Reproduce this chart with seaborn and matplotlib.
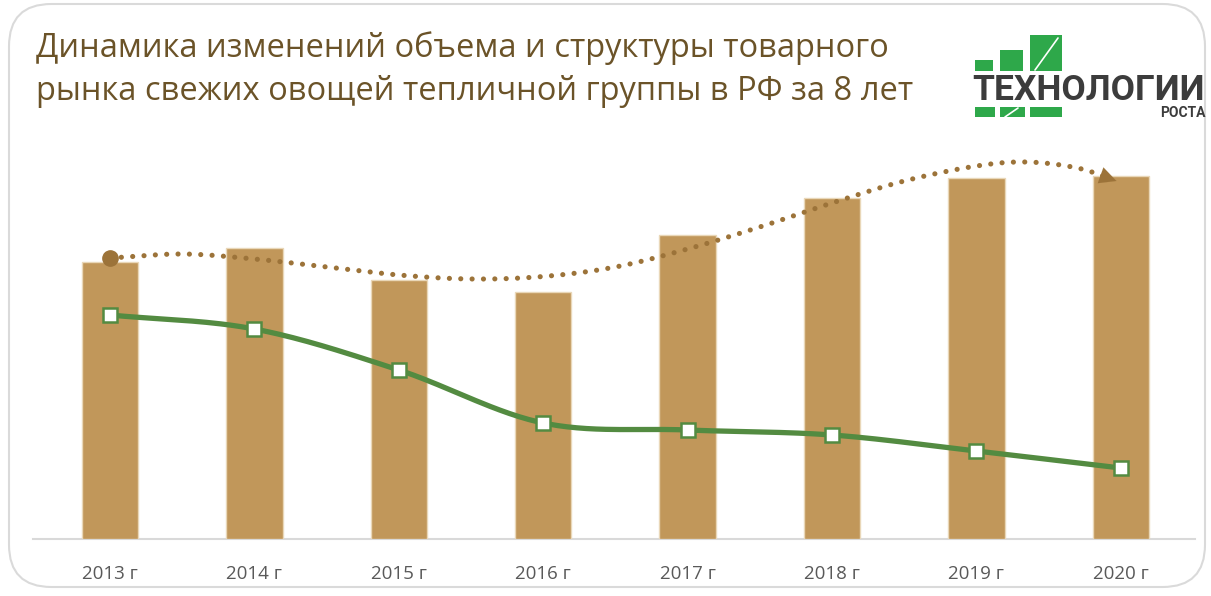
import numpy as np
import pandas as pd
import matplotlib
matplotlib.use("Agg")
import matplotlib.pyplot as plt
import seaborn as sns
from matplotlib.patches import FancyBboxPatch, Rectangle

# ---------------- data ----------------
years = ["2013 г", "2014 г", "2015 г", "2016 г", "2017 г", "2018 г", "2019 г", "2020 г"]
market_volume = [277, 291, 259, 247, 304, 341, 361, 363]        # bars
import_share = [224, 210, 169, 116, 109, 104, 88, 71]             # green line
trend_x = [0, 0.5, 1, 1.5, 2, 2.5, 3, 3.5, 4, 4.5, 5, 5.5, 6, 6.35, 6.7, 6.97]
trend_y = [281, 285, 280, 272, 264, 260, 262.5, 272, 290, 312, 336, 358, 373, 377, 371, 358]
title = "Динамика изменений объема и структуры товарного\nрынка свежих овощей тепличной группы в РФ за 8 лет"

BAR_C = "#C1975A"
GREEN = "#538B41"
BROWN = "#9C7339"
TITLE_C = "#6B5328"


def catmull_rom(xs, ys, n=30):
    xs = np.asarray(xs, float); ys = np.asarray(ys, float)
    px = np.concatenate([[2 * xs[0] - xs[1]], xs, [2 * xs[-1] - xs[-2]]])
    py = np.concatenate([[2 * ys[0] - ys[1]], ys, [2 * ys[-1] - ys[-2]]])
    ox, oy = [], []
    for i in range(1, len(px) - 2):
        t = np.linspace(0, 1, n, endpoint=False)
        for arr, out in ((px, ox), (py, oy)):
            p0, p1, p2, p3 = arr[i - 1], arr[i], arr[i + 1], arr[i + 2]
            out.extend(0.5 * ((2 * p1) + (-p0 + p2) * t + (2 * p0 - 5 * p1 + 4 * p2 - p3) * t ** 2
                              + (-p0 + 3 * p1 - 3 * p2 + p3) * t ** 3))
    ox.append(xs[-1]); oy.append(ys[-1])
    return np.array(ox), np.array(oy)


sns.set_theme(style="white")
plt.rcParams['font.family'] = ['Open Sans', 'DejaVu Sans']

fig = plt.figure(figsize=(12.11, 5.96), dpi=100)
W, H = 1211, 596

# rounded frame
frame = FancyBboxPatch((9 / W, 9 / H), (1205 - 9) / W, (592 - 9) / H,
                       boxstyle="round,pad=0,rounding_size=0.035",
                       transform=fig.transFigure, fill=False, ec="#DADADA", lw=1.5,
                       mutation_aspect=W / H)
fig.patches.append(frame)

ax = fig.add_axes([33 / W, 1 - 539 / H, 1162 / W, 399 / H])
df = pd.DataFrame({"year": years, "volume": market_volume})
sns.barplot(data=df, x="year", y="volume", color=BAR_C, saturation=1, width=0.39,
            edgecolor="#E9D7B8", linewidth=1.0, ax=ax, zorder=2)

# green smoothed line with square markers
lx, ly = catmull_rom(np.arange(len(years)), import_share)
ax.plot(lx, ly, color=GREEN, lw=3.8, solid_capstyle="round", zorder=3)
ax.plot(np.arange(len(years)), import_share, ls="none", marker="s", ms=10,
        mfc="white", mec=GREEN, mew=1.8, zorder=4)

# dotted trend arrow
tx, ty = catmull_rom(trend_x, trend_y)
ax.plot(tx[:-6], ty[:-6], color=BROWN, lw=3.7, ls=(0, (0.01, 2.2)),
        dash_capstyle="round", zorder=5)
ax.plot([trend_x[0]], [trend_y[0]], marker="o", ms=11, color=BROWN, mec=BROWN, zorder=6)
ax.annotate("", xy=(tx[-1], ty[-1]), xytext=(tx[-8], ty[-8]),
            arrowprops=dict(arrowstyle="-|>,head_length=1.0,head_width=0.5",
                            color=BROWN, lw=0.1, shrinkA=0, shrinkB=0), zorder=6)

ax.set_xlim(-77 / 144.4, (1195 - 110) / 144.4)
ax.set_ylim(0, 399)
ax.set_xlabel(""); ax.set_ylabel("")
ax.set_yticks([])
for s in ["top", "right", "left"]:
    ax.spines[s].set_visible(False)
ax.spines["bottom"].set_color("#D9D9D9")
ax.spines["bottom"].set_linewidth(1.5)
ax.spines["bottom"].set_zorder(1)
ax.tick_params(axis="x", length=0, pad=19, labelsize=13.5, labelcolor="#595959")
ax.set_facecolor("none")

# title
fig.text(36 / W, 1 - 31 / H, title, ha="left", va="top", fontsize=23.5,
         color=TITLE_C, linespacing=1.42)

# logo
LG = "#2EA84A"
def frect(x0, y0, x1, y1):
    fig.patches.append(Rectangle((x0 / W, 1 - y1 / H), (x1 - x0) / W, (y1 - y0) / H,
                                 transform=fig.transFigure, color=LG, lw=0))
frect(975, 60, 993, 71)
frect(1000, 50, 1023, 71)
frect(1030, 35, 1062, 71)
frect(975, 107, 995, 117)
frect(1000, 107, 1025, 117)
frect(1030, 107, 1062, 117)
fig.add_artist(plt.Line2D([1035 / W, 1058 / W], [1 - 70 / H, 1 - 38 / H], color="white", lw=1.2))
fig.add_artist(plt.Line2D([1005 / W, 1018 / W], [1 - 117 / H, 1 - 108 / H], color="white", lw=1.2))
fig.text(972 / W, 1 - 91 / H, "ТЕХНОЛОГИИ", ha="left", va="center", fontsize=25.5,
         fontweight="bold", color="#3C3C3C", family="Roboto")
fig.text(1206 / W, 1 - 113 / H, "РОСТА", ha="right", va="center", fontsize=10,
         fontweight="bold", color="#3C3C3C", family="Roboto")

fig.savefig("out.png", dpi=100)
